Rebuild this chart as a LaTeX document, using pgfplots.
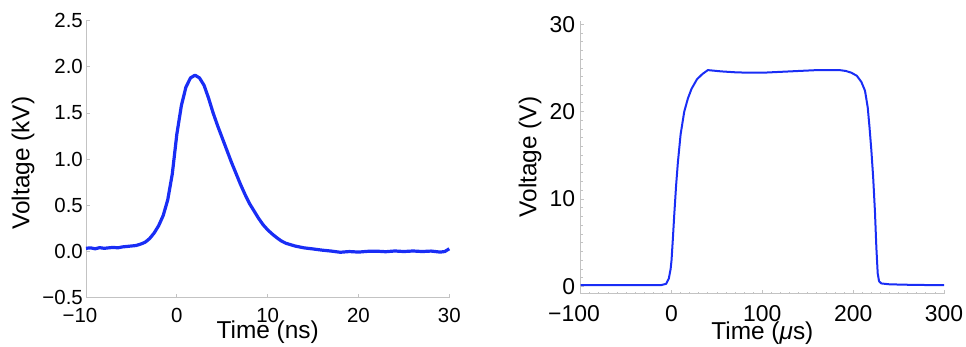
\documentclass[border=0pt]{standalone}
\usepackage{fontspec}
\setmainfont{Liberation Sans}
\usepackage{pgfplots}
\pgfplotsset{compat=1.18}
\definecolor{lineblue}{RGB}{25,45,245}
\definecolor{axgray}{RGB}{195,195,195}
\begin{document}
\fontsize{22}{26}\selectfont
\begin{tikzpicture}
\useasboundingbox (0,0) rectangle (966bp,-347bp);
\pgfplotsset{
  myaxis/.style={
    scale only axis,
    axis x line=bottom, axis y line=left,
    axis line style={axgray, line width=1bp, -},
    tick align=inside,
    tick style={axgray, line width=0.8bp},
    major tick length=3.5bp,
    minor tick length=2bp,
    xticklabel style={inner sep=0pt, anchor=north},
    yticklabel style={inner sep=0pt, anchor=east},
    label style={font=\fontsize{24.5}{28}\selectfont, inner sep=0pt},
    clip=false,
  }
}
\begin{axis}[myaxis,
  at={(86bp,-297.7bp)}, anchor=south west,
  width=363.3bp, height=277bp,
  xmin=-10, xmax=30, ymin=-0.5, ymax=2.5,
  xtick={-10,0,10,20,30}, xticklabels={\llap{−}10,0,10,20,30},
  ytick={-0.5,0,0.5,1,1.5,2,2.5}, yticklabels={−0.5,0.0,0.5,1.0,1.5,2.0,2.5},
  tick label style={font=\fontsize{20.5}{24}\selectfont},
  xticklabel style={yshift=-10bp},
  yticklabel style={xshift=-3bp},
  xlabel={Time (ns)}, ylabel={Voltage (kV)},
  xlabel style={at={(axis description cs:0.5,0)}, anchor=center, yshift=-34bp},
  ylabel style={at={(axis description cs:0,0.5)}, anchor=center, yshift=63bp, xshift=-4bp},
]
\addplot[lineblue, line width=3.2bp, line join=round] coordinates {
(-10,0.035) (-9.5,0.04) (-9,0.03) (-8.5,0.042) (-8,0.035) (-7.5,0.04) (-7,0.045) (-6.5,0.04)
(-6,0.05) (-5.5,0.055) (-5,0.06) (-4.5,0.065) (-4,0.08) (-3.5,0.10) (-3,0.14) (-2.5,0.20)
(-2,0.28) (-1.5,0.39) (-1,0.56) (-0.5,0.84) (0,1.27) (0.5,1.58) (1,1.78) (1.5,1.88)
(2,1.91) (2.5,1.88) (3,1.80) (3.5,1.66) (4,1.50) (4.5,1.36) (5,1.23) (5.5,1.10)
(6,0.97) (6.5,0.85) (7,0.73) (7.5,0.62) (8,0.52) (8.5,0.44) (9,0.36) (9.5,0.29)
(10,0.235) (10.5,0.19) (11,0.15) (11.5,0.115) (12,0.09) (12.5,0.075) (13,0.06) (13.5,0.05)
(14,0.04) (15,0.028) (16,0.015) (17,0.005) (18,-0.008) (19,0.0) (20,-0.006) (21,0.002)
(22,0.004) (23,-0.002) (24,0.006) (25,0.0) (26,0.006) (27,0.0) (28,0.005) (29,-0.006)
(29.5,0.0) (30,0.03)
};
\end{axis}
\begin{axis}[myaxis,
  at={(580.7bp,-293.5bp)}, anchor=south west,
  width=363.3bp, height=272.8bp,
  xmin=-100, xmax=300, ymin=-0.8, ymax=30.4,
  xtick={-100,0,100,200,300}, xticklabels={\llap{−}100,0,100,200,300},
  ytick={0,10,20,30}, yticklabels={0,10,20,30},
  minor x tick num=9, minor y tick num=9,
  tick label style={font=\fontsize{23}{27}\selectfont},
  xticklabel style={yshift=-11.5bp},
  yticklabel style={xshift=-5.5bp},
  xlabel={Time (\textit{μ}s)}, ylabel={Voltage (V)},
  xlabel style={at={(axis description cs:0.5,0)}, anchor=center, yshift=-40bp},
  ylabel style={at={(axis description cs:0,0.5)}, anchor=center, yshift=50.7bp},
]
\addplot[lineblue, line width=2bp, line join=round] coordinates {
(-100,0.15) (-50,0.15) (-12,0.15) (-6,0.3) (-3,0.9) (-1,2.0) (0,3.0) (1.5,5.5) (3,8.2)
(5,11.5) (7,14.2) (10,17.4) (14,20.0) (18,21.5) (22,22.6) (28,23.7) (34,24.3) (40,24.75)
(45,24.7) (55,24.6) (70,24.5) (85,24.45) (100,24.45) (120,24.55) (140,24.65) (160,24.75)
(185,24.75) (192,24.65) (198,24.45) (204,24.1) (209,23.4) (213,22.4) (216,20.5)
(218,18.2) (220,15.6) (222,12.5) (224,8.5) (225.5,4.5) (227,1.5) (228.5,0.6) (231,0.35)
(240,0.25) (260,0.2) (280,0.17) (300,0.15)
};
\end{axis}
\end{tikzpicture}
\end{document}
